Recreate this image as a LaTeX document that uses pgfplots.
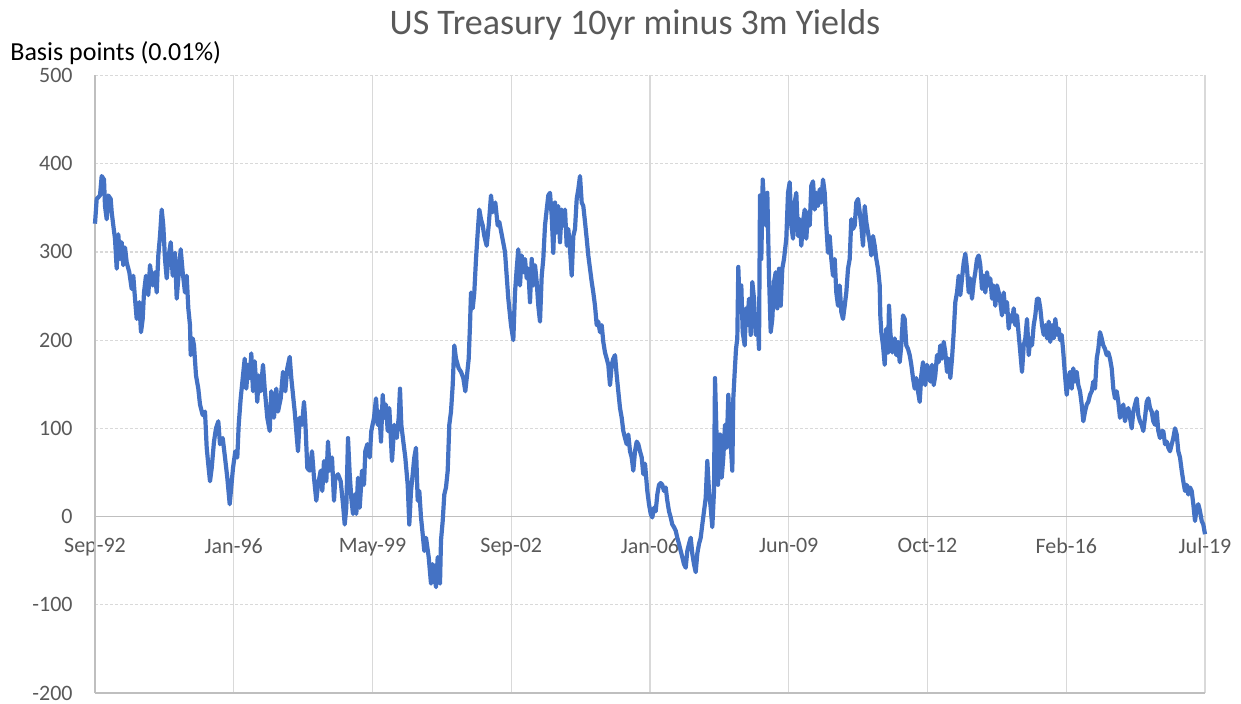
\documentclass[border=0pt]{standalone}
\usepackage{pgfplots}
\pgfplotsset{compat=1.18}
\usepackage{fontspec}
\setmainfont{Carlito}
\definecolor{lineblue}{HTML}{4472C4}
\definecolor{txtgray}{HTML}{595959}
\definecolor{gridgray}{HTML}{D9D9D9}
\definecolor{axgray}{HTML}{BFBFBF}
\begin{document}
\begin{tikzpicture}
\path[use as bounding box] (0,0) rectangle (620.5pt,352pt);
\begin{axis}[
  at={(47.5pt,5.5pt)}, anchor=south west,
  scale only axis, width=555pt, height=308.75pt,
  xmin=0, xmax=1110, ymin=-200, ymax=500,
  axis line style={draw=none},
  xtick={0,138.75,277.5,416.25,555,693.75,832.5,971.25,1110},
  xticklabels={Sep-92,Jan-96,May-99,Sep-02,Jan-06,Jun-09,Oct-12,Feb-16,Jul-19},
  ytick={-200,-100,0,100,200,300,400,500},
  yticklabels={-200,-100,0,100,200,300,400,500},
  major tick length=0pt,
  xticklabel style={anchor=north, inner sep=0pt, yshift=77.5pt, font=\fontsize{11}{13}\selectfont, text=txtgray},
  yticklabel style={anchor=east, inner sep=0pt, xshift=-11pt, font=\fontsize{11}{13}\selectfont, text=txtgray},
  xmajorgrids, ymajorgrids,
  x grid style={gridgray, line width=0.6pt},
  y grid style={gridgray, line width=0.6pt, dash pattern=on 1.5pt off 1pt},
  clip=false,
]
\draw[axgray, line width=0.6pt] (rel axis cs:0,0) -- (rel axis cs:1,0);
\draw[axgray, line width=0.7pt] (rel axis cs:0,0) -- (rel axis cs:0,1);
\draw[axgray, line width=0.8pt] (axis cs:0,0) -- (axis cs:1110,0);
\addplot[lineblue, line width=2.1pt, line join=round, no markers] coordinates {
(0,332) (1.7,360) (5,364) (6.7,386) (9,382) (10,352) (11.7,337) (13.3,364) (15.7,360) (16.7,345) (18.3,330) (20,315) (21.7,281) (23.3,320) (25,292) (26.7,311) (28.3,285) (30,305) (31.7,288) (34.3,277) (36.7,258) (38.3,273) (40,247) (41.7,224) (44.3,243) (46,209) (47.7,224) (49,254) (51,273) (53.3,251) (55,285) (57.7,262) (60,277) (61.7,254) (63.3,296) (65,318) (66.7,348) (68.3,330) (70,292) (71.7,270) (73.3,292) (75.7,311) (77.7,273) (80,299) (81.7,247) (83.3,270) (85.7,303) (87.7,277) (90,254) (91.7,273) (93.3,236) (95,217) (95.7,183) (97.7,202) (99,194) (101,160) (103.3,145) (105,127) (107.7,115) (110,119) (111.7,78) (113.3,59) (115,40) (116.7,55) (119,85) (121,100) (123.3,108) (125,82) (127.7,89) (130,67) (132.3,44)
(134.7,14) (138,55) (140.3,74) (142.3,67) (143.7,104) (145.7,134) (148,160) (149.7,179) (151.3,145) (153,172) (154.7,157) (156.3,185) (158,142) (159.7,176) (162.3,130) (163.7,160) (165.7,142) (168,172) (169.7,145) (172.3,112) (174.7,97) (176.3,142) (179,112) (181.3,145) (183,119) (185.7,134) (188,164) (190.3,142) (192.3,168) (194.7,181) (196.3,157) (198,138) (199.7,119) (201.3,97) (203,74) (204.7,112) (207,104) (209,130) (210.3,108) (212.3,55) (214.7,52) (217,74) (219,44) (221.3,18) (223,36) (225.7,52) (227.3,29) (229,63) (231.3,40) (233,85) (234.7,52) (237,67) (239,18) (240.3,44) (243,48) (245.7,40) (248,14) (249.7,-9) (251.3,10) (253,89) (254.7,48) (256.3,21) (258,3) (259.7,25) (261.3,3) (263,44) (264.7,10) (267,52) (269,36) (270.3,74) (272.3,82) (274.7,67) (276.3,97) (279,112)
(281,134) (282.7,104) (284.3,119) (286,85) (287.7,138) (289.3,112) (291,127) (292.7,97) (294.3,123) (297,63) (299.3,104) (301.7,89) (303.7,112) (305,145) (306.3,104) (308.3,85) (310.3,67) (312.7,36) (314.3,-9) (316,29) (317.7,48) (319.3,67) (321,78) (322.7,18) (324.3,29) (326,-1) (327.7,-20) (329.3,-39) (331,-24) (333.7,-46) (336,-76) (337.7,-54) (339.3,-65) (341,-80) (342.7,-46) (345,-76) (346,-27) (347.7,-5) (349.3,25) (351,33) (352.7,52) (354.3,104) (356,119) (357.7,149) (359.3,194) (361,179) (363.7,168) (366,164) (368.3,157) (370.3,142) (372,160) (373.7,179) (375,217) (376,254) (377.7,236) (379.3,254) (381,292) (382.7,322) (384.3,348) (386,337) (387.7,330) (389.3,318) (391.7,307) (393.7,330) (396,364) (397.7,345) (400.3,356) (402.7,330) (404.3,334) (407,318)
(410,300) (413.3,247) (416,217) (418.3,200) (420,254) (421.7,281) (423.3,303) (425,262) (426.7,296) (428.3,277) (430,292) (431.7,270) (433.3,281) (435,243) (436.7,292) (438.3,262) (440,285) (441.7,266) (443.3,239) (445,221) (446.7,273) (448.3,292) (450,330) (451.7,348) (453.3,364) (455,367) (456.7,341) (458.3,299) (460,356) (461.7,322) (463.3,352) (465,311) (466.7,348) (468.3,330) (470,348) (471.7,307) (473.3,326) (475,303) (476.7,273) (478.3,318) (480,326) (481.7,360) (483.3,371) (485,386) (486.7,356) (488.3,352) (490,334) (491.7,315) (493.3,296) (495,281) (496.7,266) (498.3,254) (500,239) (501.7,217) (503.3,221) (505,209) (506.7,217) (508.3,198) (510,186) (511.7,179) (513.3,172) (515,149) (516.7,172) (518.3,179) (520,183) (521.7,160) (523.3,142) (525,123) (526.7,112) (528.3,97) (530,89) (531.7,82) (533.3,93) (535,74) (536.7,67) (538.3,52) (540,74) (541.7,85) (543.3,82) (545,74) (546.7,67) (548.3,48)
(550,60) (552.3,29) (554,14) (555.7,3) (557.3,-1) (559,10) (560.7,6) (562.3,25) (564,36) (565.7,38) (567.3,36) (569,29) (570.7,33) (572.3,18) (574,6) (575.7,-1) (577.3,-9) (579,-12) (580.7,-16) (582.3,-24) (584,-31) (585.7,-39) (587.3,-46) (589,-54) (590.7,-58) (592.3,-39) (594,-31) (595.7,-24) (597.3,-42) (599,-54) (600.7,-63) (602.3,-42) (604,-31) (605.7,-24) (607.3,-9) (609,6) (610.7,21) (612.3,63) (614,29) (615.7,10) (617.3,-12) (619,29) (620,157) (621.7,85) (623,36) (625,93) (626.7,44) (628.3,67) (630,104) (631.7,78) (633.3,138) (635,97) (637.3,52) (638.3,134) (639.7,164) (641,190) (642.3,202) (643.3,283) (644.7,236) (646.3,262) (647.7,209) (649.7,194) (651,236) (652.3,217) (654,247) (655.7,206) (657.3,266) (659,247) (660.7,206) (662.3,228) (664,190) (665,364) (666.3,292) (667.7,382) (669,356) (670.7,330) (672.3,367) (674,273) (675.7,209) (677.3,224) (679,266) (680.7,277) (682.3,236) (684,281) (685.7,239) (687.3,281)
(689,292) (691.3,315) (693,367) (694.7,379) (696.3,330) (698,315) (699.7,356) (701.3,367) (703,318) (704.7,337) (706.3,307) (708,334) (709.7,348) (711.3,315) (713,345) (714.7,330) (716.3,375) (718,380) (719.7,348) (721.3,367) (723,352) (724.7,371) (726.3,356) (728,382) (729.7,367) (731.3,330) (733,299) (734.7,318) (736.3,292) (738,273) (739.7,292) (741.3,254) (743,239) (744.7,262) (746.3,232) (748,224) (749.7,239) (751.3,254) (753,281) (754.7,292) (756.3,337) (758,326) (759.7,330) (761.3,356) (763,360) (764.7,345) (766.3,330) (768,307) (769.7,352) (771.3,334) (773,322) (774.7,311) (776.3,296) (778,318) (779.7,307) (781.3,292) (783,281) (784.7,262) (785.3,228) (786.3,209) (788,194) (789.7,172) (791.3,213) (793,186) (794,239) (795.3,209) (797.3,186) (799.7,202) (801.3,183) (803,198) (804.7,175) (806.3,194) (808,228) (809.7,224) (811.3,194) (813,190) (814.7,183) (816.3,172) (818,157) (819.7,145) (821.3,157) (823,142) (824.7,130) (826.3,160)
(828,175) (830.3,149) (832,172) (833.7,164) (835.3,153) (837,172) (838.7,149) (840.3,160) (842,183) (843.7,175) (845.3,194) (847,179) (848.7,198) (850.3,186) (852,164) (853.7,179) (855.3,157) (857,179) (858.7,209) (860.3,243) (862,254) (863.7,273) (865.3,251) (867,270) (868.7,288) (870.3,298) (872,281) (873.7,254) (875.3,270) (877,247) (878.7,266) (880.3,277) (882,292) (883.7,296) (885.3,285) (887,258) (888.7,273) (890.3,254) (892,277) (893.7,262) (895.3,270) (897,247) (898.7,262) (900.3,239) (902,262) (903.7,254) (905.3,243) (907,228) (908.7,254) (910.3,232) (912,243) (913.7,213) (915.3,228) (917,221) (918.7,236) (920.3,217) (922,228) (923.7,206) (925.3,186) (927,164) (928.7,194) (930.3,202) (932,224) (933.7,183) (935.3,202) (937,194) (938.7,217) (940.3,228) (942,247) (943.7,247) (945.3,236) (947,217) (948.7,206) (950.3,217) (952,202) (953.7,221) (955.3,198) (957,217) (958.7,202) (960.3,224) (962,206) (963.7,213)
(965,200) (966.7,206) (968.3,186) (970,160) (971.7,138) (973.3,157) (975,164) (976.7,145) (978.3,168) (980,153) (981.7,164) (983.3,149) (985,142) (986.7,127) (988.3,108) (990,119) (991.7,127) (993.3,130) (995,138) (996.7,142) (998.3,153) (1000,145) (1001.7,179) (1003.3,190) (1005,209) (1006.7,202) (1008.3,194) (1010,190) (1011.7,183) (1013.3,186) (1015,179) (1016.7,168) (1018.3,145) (1020,134) (1021.7,142) (1023.3,130) (1025,112) (1026.7,119) (1028.3,127) (1030,108) (1031.7,119) (1033.3,123) (1035,112) (1036.7,100) (1038.3,119) (1040,127) (1041.7,134) (1043.3,115) (1045,108) (1046.7,104) (1048.3,97) (1050,112) (1051.7,130) (1053.3,134) (1055,123) (1056.7,119) (1058.3,108) (1060,104) (1061.7,119) (1063.3,97) (1065,89) (1066.7,97) (1068.3,97) (1070,82) (1071.7,85) (1073.3,78) (1075,74) (1076.7,82) (1078.3,89) (1080,100) (1081.7,93) (1083.3,74) (1085,67) (1086.7,52) (1088.3,40) (1090,29) (1091.7,36) (1093.3,25) (1095,33) (1096.7,29) (1098.3,14) (1100,-5) (1101.7,10) (1103.3,14) (1105,6) (1106.7,-5) (1108.3,-9) (1110,-20)
};
\end{axis}
\node[anchor=base, inner sep=0pt, text=txtgray, font=\fontsize{18}{22}\selectfont] at (317.5pt,334.5pt) {US Treasury 10yr minus 3m Yields};
\node[anchor=base west, inner sep=0pt, text=black, font=\fontsize{13}{16}\selectfont] at (5pt,321.5pt) {Basis points (0.01\%)};
\end{tikzpicture}
\end{document}
